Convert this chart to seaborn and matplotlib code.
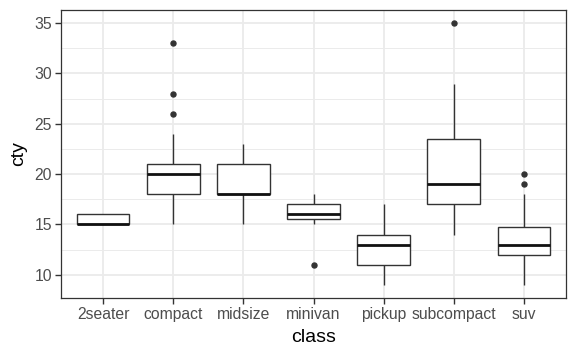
import numpy as np
import pandas as pd
import matplotlib
matplotlib.use("Agg")
import matplotlib.pyplot as plt
from matplotlib.ticker import MultipleLocator, FixedLocator
import seaborn as sns

classes = ["2seater", "compact", "midsize", "minivan", "pickup", "subcompact", "suv"]

cty_2seater = [16, 15, 16, 15, 15]
cty_compact = [15, 15, 16, 16, 17, 17, 17, 18, 18, 18, 18, 18, 18, 18, 18,
               19, 19, 19, 19, 19, 20, 20, 20, 20, 20, 20,
               21, 21, 21, 21, 21, 21, 21, 21, 21, 21, 21, 21,
               22, 22, 22, 23, 24, 24, 26, 28, 33]
cty_midsize = [15, 15, 16, 16, 17, 17, 17,
               18, 18, 18, 18, 18, 18, 18, 18, 18, 18, 18, 18, 18, 18,
               19, 19, 19, 20, 20, 20, 21, 21, 21, 21, 21, 21,
               22, 22, 22, 22, 23, 23, 23, 23]
cty_minivan = [11, 15, 15, 16, 16, 16, 16, 17, 17, 17, 18]
cty_pickup = [9, 9, 9, 11, 11, 11, 11, 11, 11, 11, 12, 12, 12, 12,
              13, 13, 13, 13, 13, 14, 14, 14, 14, 14, 14, 14,
              15, 15, 15, 16, 16, 17, 17]
cty_subcompact = [14, 15, 15, 16, 16, 16, 17, 17, 17, 17, 18, 18, 18, 18,
                  19, 19, 19, 19, 20, 20, 21, 21, 21, 22, 23, 23,
                  24, 24, 24, 24, 26, 26, 28, 29, 35]
cty_suv = [9, 9, 9, 11, 11, 11, 11, 11, 11, 11, 11, 11, 11,
           12, 12, 12, 12, 12, 12, 12, 12,
           13, 13, 13, 13, 13, 13, 13, 13, 13, 13, 13, 13, 13, 13, 13,
           14, 14, 14, 14, 14, 14, 14, 14, 14, 14,
           15, 15, 15, 15, 15, 15, 16, 16, 16, 17, 17, 17, 17, 18, 19, 20]

y_ticks = [10, 15, 20, 25, 30, 35]

series = [cty_2seater, cty_compact, cty_midsize, cty_minivan, cty_pickup, cty_subcompact, cty_suv]
df = pd.DataFrame({
    "class": [c for c, vals in zip(classes, series) for _ in vals],
    "cty": [v for vals in series for v in vals],
})

sns.set_theme(style="white")
plt.rcParams["font.family"] = ["Liberation Sans", "DejaVu Sans"]

fig = plt.figure(figsize=(5.77, 3.57), dpi=100)
ax = fig.add_axes([61/577, 1 - 298/357, (566-61)/577, (298-10)/357])

dark = "#333333"
sns.boxplot(data=df, x="class", y="cty", order=classes, ax=ax,
            color="white", linecolor=dark, linewidth=1.0, width=0.75,
            saturation=1, showcaps=False,
            flierprops=dict(marker="o", markerfacecolor=dark, markeredgecolor=dark,
                            markersize=3.6),
            medianprops=dict(linewidth=2.0, color="#111111"))

ax.set_xlim(-0.6, 6.6)
ax.set_ylim(7.7, 36.3)
ax.yaxis.set_major_locator(FixedLocator(y_ticks))
ax.yaxis.set_minor_locator(MultipleLocator(2.5))
ax.set_axisbelow(True)
ax.grid(True, which="major", axis="both", color="#EBEBEB", linewidth=1.3)
ax.grid(True, which="minor", axis="y", color="#EBEBEB", linewidth=0.7)
ax.tick_params(axis="both", which="major", length=4, width=1, color=dark,
               labelcolor="#4D4D4D", labelsize=11.3, pad=2.5, bottom=True, left=True)
ax.tick_params(axis="y", which="minor", length=0)
for s in ax.spines.values():
    s.set_color(dark)
    s.set_linewidth(0.9)
    s.set_visible(True)
ax.set_xlabel("class", fontsize=14, color="black", labelpad=5)
ax.set_ylabel("cty", fontsize=14, color="black", labelpad=5)

fig.savefig("out.png", dpi=100, facecolor="white")
